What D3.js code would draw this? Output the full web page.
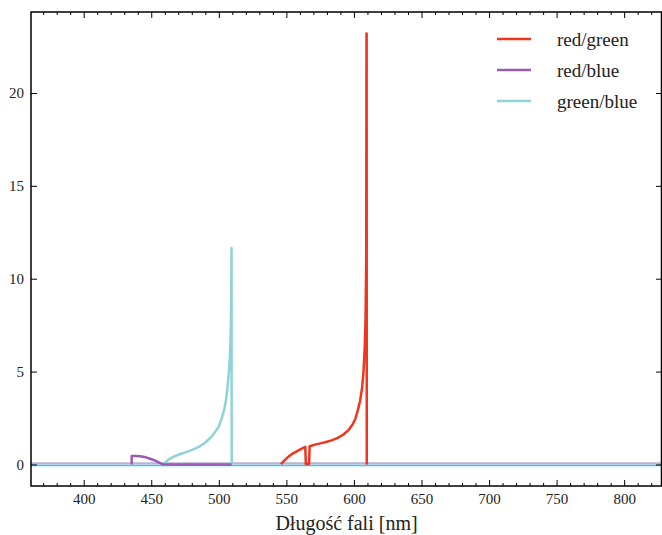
<!DOCTYPE html>
<html><head><meta charset="utf-8">
<script src="https://cdn.jsdelivr.net/npm/d3@7"></script>
<style>
html,body{margin:0;padding:0;background:#fff;}
svg{display:block;font-family:"Liberation Serif","DejaVu Serif",serif;}
</style></head>
<body><div id="chart"></div>
<script>
// ---- data ----
const seriesNames = ["red/green", "red/blue", "green/blue"];
const seriesColors = ["#f0341e", "#9b59b6", "#8fd3d8"];

const redGreenX = [546, 549, 552, 555, 558, 561, 564, 564.4, 566.8, 567.2, 572, 576, 580, 584, 588, 592, 596, 599, 601, 603, 604.5, 606, 607, 608, 608.6, 609.1, 609.3, 609.4, 609.5];
const redGreenY = [0.02, 0.25, 0.45, 0.6, 0.72, 0.84, 0.95, 0.03, 0.03, 0.98, 1.08, 1.15, 1.22, 1.31, 1.43, 1.6, 1.85, 2.15, 2.45, 2.95, 3.4, 4.1, 4.9, 6.3, 7.8, 11.0, 23.2, 23.2, 0];

const redBlueX = [435.5, 435.5, 438, 441.7, 444, 446.6, 449, 451.5, 453.5, 455.2, 457, 458.8, 509.5];
const redBlueY = [0, 0.45, 0.45, 0.44, 0.41, 0.37, 0.31, 0.25, 0.19, 0.12, 0.06, 0, 0];

const greenBlueX = [458.8, 462, 466, 470, 474, 478, 482, 486, 490, 494, 497, 500, 502, 504, 505.5, 506.5, 507.5, 508.2, 508.8, 509.2, 509.4, 509.55];
const greenBlueY = [0, 0.22, 0.4, 0.52, 0.62, 0.72, 0.84, 0.98, 1.18, 1.45, 1.72, 2.05, 2.45, 2.95, 3.55, 4.2, 5.0, 5.8, 7.0, 9.0, 11.65, 0];

const baseX = [361, 828];
const baseY = [0, 0];

const xDomain = [361, 828];
const yDomain = [-1.16, 24.36];
const xMajorTicks = [400, 450, 500, 550, 600, 650, 700, 750, 800];
const yMajorTicks = [0, 5, 10, 15, 20];
const xLabel = "Długość fali [nm]";

// ---- layout ----
const W = 662, H = 535;
const m = {left: 31, top: 12, right: 0, bottom: 49};
const iw = W - m.left - m.right, ih = H - m.top - m.bottom;

const svg = d3.select("#chart").append("svg").attr("width", W).attr("height", H);
const g = svg.append("g").attr("transform", `translate(${m.left},${m.top})`);

const x = d3.scaleLinear().domain(xDomain).range([0, iw]);
const y = d3.scaleLinear().domain(yDomain).range([ih, 0]);

svg.append("defs").append("clipPath").attr("id", "clip")
  .append("rect").attr("width", iw).attr("height", ih);

const plot = g.append("g").attr("clip-path", "url(#clip)");
const line = d3.line().x(d => x(d[0])).y(d => y(d[1]));
const zip = (a, b) => a.map((v, i) => [v, b[i]]);

// baselines at zero
plot.append("path").datum(zip(baseX, baseY)).attr("d", line)
  .attr("fill", "none").attr("stroke", "#b8b3d4").attr("stroke-width", 2.2)
  .attr("transform", "translate(0,-1)");
plot.append("path").datum(zip(baseX, baseY)).attr("d", line)
  .attr("fill", "none").attr("stroke", "#3cc8ea").attr("stroke-width", 1.6)
  .attr("transform", "translate(0,1)");

const series = [zip(redGreenX, redGreenY), zip(redBlueX, redBlueY), zip(greenBlueX, greenBlueY)];
// draw order: green/blue, red/blue, red/green
[2, 1, 0].forEach(i => {
  plot.append("path").datum(series[i]).attr("d", line)
    .attr("fill", "none").attr("stroke", seriesColors[i])
    .attr("stroke-width", 2.5).attr("stroke-linejoin", "round");
});

// ---- axes (inward ticks all around) ----
const xMinor = d3.range(370, 830, 10).filter(v => v % 50 !== 0);
function styleAxis(sel) {
  sel.select(".domain").remove();
  sel.selectAll("line").attr("stroke", "#000").attr("stroke-width", 1);
  sel.selectAll("text").attr("font-family", "Liberation Serif, serif").attr("font-size", 15).attr("fill", "#222");
}
// bottom
g.append("g").attr("transform", `translate(0,${ih})`)
  .call(d3.axisBottom(x).tickValues(xMajorTicks).tickSizeInner(-6).tickSizeOuter(0).tickPadding(7).tickFormat(d3.format("d")))
  .call(styleAxis);
g.append("g").attr("transform", `translate(0,${ih})`)
  .call(d3.axisBottom(x).tickValues(xMinor).tickSize(-3).tickFormat(""))
  .call(styleAxis);
// top
g.append("g")
  .call(d3.axisTop(x).tickValues(xMajorTicks).tickSize(-6).tickFormat(""))
  .call(styleAxis);
g.append("g")
  .call(d3.axisTop(x).tickValues(xMinor).tickSize(-3).tickFormat(""))
  .call(styleAxis);
// left
g.append("g")
  .call(d3.axisLeft(y).tickValues(yMajorTicks).tickSizeInner(-6).tickSizeOuter(0).tickPadding(7).tickFormat(d3.format("d")))
  .call(styleAxis);
// right
g.append("g").attr("transform", `translate(${iw},0)`)
  .call(d3.axisRight(y).tickValues(yMajorTicks).tickSize(-6).tickFormat(""))
  .call(styleAxis);

// frame
g.append("rect").attr("width", iw - 0.5).attr("height", ih)
  .attr("fill", "none").attr("stroke", "#000").attr("stroke-width", 1.5);

// x label
g.append("text").attr("x", iw / 2).attr("y", ih + 44).attr("text-anchor", "middle")
  .attr("font-size", 20).attr("fill", "#222").text(xLabel);

// ---- legend ----
const lg = g.append("g").attr("transform", `translate(${466},${27})`);
seriesNames.forEach((name, i) => {
  const row = lg.append("g").attr("transform", `translate(0,${i * 31})`);
  row.append("line").attr("x1", 0).attr("x2", 34).attr("y1", 0).attr("y2", 0)
    .attr("stroke", seriesColors[i]).attr("stroke-width", 2.5);
  row.append("text").attr("x", 60).attr("y", 7).attr("font-size", 19).attr("fill", "#222").text(name);
});
</script>
</body></html>
